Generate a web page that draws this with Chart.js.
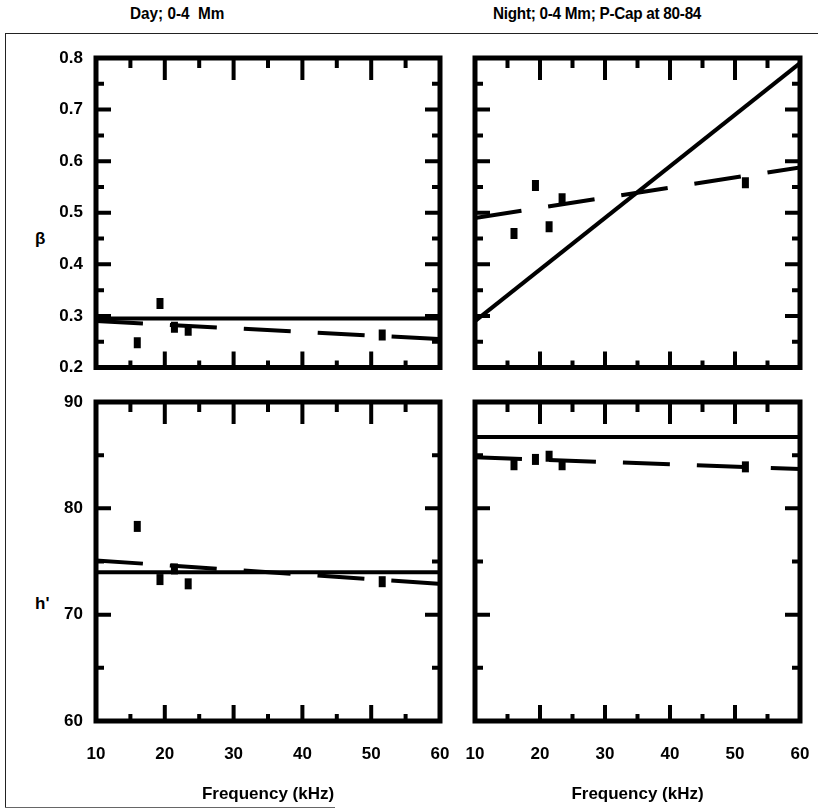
<!DOCTYPE html>
<html>
<head>
<meta charset="utf-8">
<script src="https://cdn.jsdelivr.net/npm/chart.js@4.4.1/dist/chart.umd.min.js"></script>
<style>
  html, body { margin: 0; padding: 0; background: #fff; }
  body { width: 818px; height: 811px; position: relative; overflow: hidden;
         font-family: 'Liberation Sans Narrow', 'Liberation Sans', sans-serif; color: #000; }
  canvas { position: absolute; }
  .txt { position: absolute; white-space: nowrap; }
  .title { font-size: 17px; font-weight: bold; transform: scaleX(0.9); transform-origin: left center; }
  .frame-top { position: absolute; left: 5px; top: 33px; width: 813px; border-top: 1.5px solid #222; }
  .frame-left { position: absolute; left: 5px; top: 33px; height: 775px; border-left: 1.5px solid #222; }
  .frame-bottom { position: absolute; left: 5px; top: 807px; width: 330px; border-top: 1px solid #666; }
</style>
</head>
<body>
<div class="frame-top"></div>
<div class="frame-left"></div>
<div class="frame-bottom"></div>

<div class="txt title" style="left:130px; top:4px;">Day; 0-4&nbsp; Mm</div>
<div class="txt title" style="left:493px; top:4px; letter-spacing:-0.3px;">Night; 0-4 Mm; P-Cap at 80-84</div>
<div class="txt" style="left:35px; top:229px; font-size:17px; font-weight:bold;">β</div>
<div class="txt" style="left:35px; top:594px; font-size:17px; font-weight:bold;">h'</div>

<canvas id="dayBeta" width="460" height="340" style="left:0px; top:40px;"></canvas>
<canvas id="nightBeta" width="360" height="340" style="left:458px; top:40px;"></canvas>
<canvas id="dayH" width="460" height="427" style="left:0px; top:384px;"></canvas>
<canvas id="nightH" width="360" height="427" style="left:458px; top:384px;"></canvas>

<script>
// frequencies of the measured points (kHz)
const freqs = [16.0, 19.3, 21.4, 23.4, 51.6];
// end points of the fitted lines
const lineX = [10, 60];

// beta panels
const dayBetaPts = [0.248, 0.324, 0.278, 0.272, 0.263];
const dayBetaSolid = [0.295, 0.295];
const dayBetaDash = [0.29, 0.255];
const nightBetaPts = [0.46, 0.553, 0.473, 0.527, 0.558];
const nightBetaSolid = [0.29, 0.79];
const nightBetaDash = [0.49, 0.588];

// h' panels
const dayHPts = [78.3, 73.3, 74.3, 72.9, 73.1];
const dayHSolid = [74.0, 74.0];
const dayHDash = [75.1, 72.9];
const nightHPts = [84.1, 84.6, 84.9, 84.1, 83.9];
const nightHSolid = [86.7, 86.7];
const nightHDash = [84.8, 83.7];

const tickFont = { family: "'Liberation Sans Narrow', 'Liberation Sans', sans-serif", size: 17, weight: 'bold' };

function pairs(xs, ys) {
  return xs.map((x, i) => ({ x: x, y: ys[i] }));
}

// keep the plot area where it is: labels may hang over the edges
function noOverhang(s) {
  s.paddingLeft = 0;
  s.paddingRight = 0;
  s.paddingTop = 0;
  s.paddingBottom = 0;
}

// box round the plot area and inward tick marks on all four sides
const frameTicks = {
  id: 'frameTicks',
  afterDatasetsDraw(chart, args, opts) {
    const { ctx, chartArea: a, scales: { x, y } } = chart;
    ctx.save();
    ctx.strokeStyle = '#000';
    ctx.lineWidth = 4;
    ctx.beginPath();
    let i = 1;
    for (let v = x.min + opts.xStep; v < x.max - 1e-6; v += opts.xStep, i++) {
      const px = x.getPixelForValue(v);
      const major = i % 2 === 0;
      ctx.moveTo(px, a.top);
      ctx.lineTo(px, a.top + (major ? 22 : 10));
      ctx.moveTo(px, a.bottom);
      ctx.lineTo(px, a.bottom - (major ? 16 : 7));
    }
    i = 1;
    for (let v = y.min + opts.yStep; v < y.max - 1e-6; v += opts.yStep, i++) {
      const py = y.getPixelForValue(v);
      const major = i % 2 === 0;
      ctx.moveTo(a.left, py);
      ctx.lineTo(a.left + (major ? 15 : 8), py);
      ctx.moveTo(a.right, py);
      ctx.lineTo(a.right - (major ? 15 : 8), py);
    }
    ctx.stroke();
    ctx.lineWidth = 5;
    ctx.strokeRect(a.left, a.top, a.width, a.height);
    ctx.restore();
  }
};

function makePanel(id, cfg) {
  return new Chart(document.getElementById(id), {
    type: 'scatter',
    data: {
      datasets: [
        {
          data: pairs(lineX, cfg.solid),
          showLine: true,
          borderColor: '#000',
          borderWidth: 4,
          pointRadius: 0
        },
        {
          data: pairs(lineX, cfg.dash),
          showLine: true,
          borderColor: '#000',
          borderWidth: 4,
          borderDash: [47, 27],
          pointRadius: 0
        },
        {
          data: pairs(freqs, cfg.points),
          showLine: false,
          pointStyle: 'line',
          pointRotation: 90,
          pointRadius: 5.5,
          pointBorderWidth: 7,
          pointBorderColor: '#000',
          pointBackgroundColor: '#000'
        }
      ]
    },
    options: {
      responsive: false,
      animation: false,
      events: [],
      layout: { padding: cfg.padding },
      plugins: {
        legend: { display: false },
        tooltip: { enabled: false },
        frameTicks: { xStep: 5, yStep: cfg.yStep }
      },
      scales: {
        x: {
          type: 'linear',
          min: 10,
          max: 60,
          afterFit: s => { s.height = cfg.xHeight; noOverhang(s); },
          grid: { display: false, drawTicks: false },
          border: { display: false },
          ticks: { display: cfg.xLabels, stepSize: 10, padding: 23, color: '#000', font: tickFont, maxRotation: 0 },
          title: {
            display: cfg.xLabels,
            text: 'Frequency (kHz)',
            color: '#000',
            font: tickFont,
            padding: { top: 0, bottom: 6 }
          }
        },
        y: {
          type: 'linear',
          min: cfg.yMin,
          max: cfg.yMax,
          afterFit: s => { s.width = cfg.yWidth; noOverhang(s); },
          grid: { display: false, drawTicks: false },
          border: { display: false },
          ticks: {
            display: cfg.yLabels,
            stepSize: cfg.yStep * 2,
            padding: 13,
            color: '#000',
            font: tickFont,
            callback: v => cfg.yStep < 1 ? v.toFixed(1) : String(v)
          }
        }
      }
    },
    plugins: [frameTicks]
  });
}

makePanel('dayBeta', {
  points: dayBetaPts, solid: dayBetaSolid, dash: dayBetaDash,
  yMin: 0.2, yMax: 0.8, yStep: 0.05,
  xLabels: false, yLabels: true, yWidth: 96, xHeight: 7,
  padding: { left: 0, top: 18, right: 20, bottom: 0 }
});
makePanel('nightBeta', {
  points: nightBetaPts, solid: nightBetaSolid, dash: nightBetaDash,
  yMin: 0.2, yMax: 0.8, yStep: 0.05,
  xLabels: false, yLabels: false, yWidth: 17, xHeight: 7,
  padding: { left: 0, top: 18, right: 18, bottom: 0 }
});
makePanel('dayH', {
  points: dayHPts, solid: dayHSolid, dash: dayHDash,
  yMin: 60, yMax: 90, yStep: 5,
  xLabels: true, yLabels: true, yWidth: 96, xHeight: 90,
  padding: { left: 0, top: 18, right: 20, bottom: 0 }
});
makePanel('nightH', {
  points: nightHPts, solid: nightHSolid, dash: nightHDash,
  yMin: 60, yMax: 90, yStep: 5,
  xLabels: true, yLabels: false, yWidth: 17, xHeight: 90,
  padding: { left: 0, top: 18, right: 18, bottom: 0 }
});
</script>
</body>
</html>
